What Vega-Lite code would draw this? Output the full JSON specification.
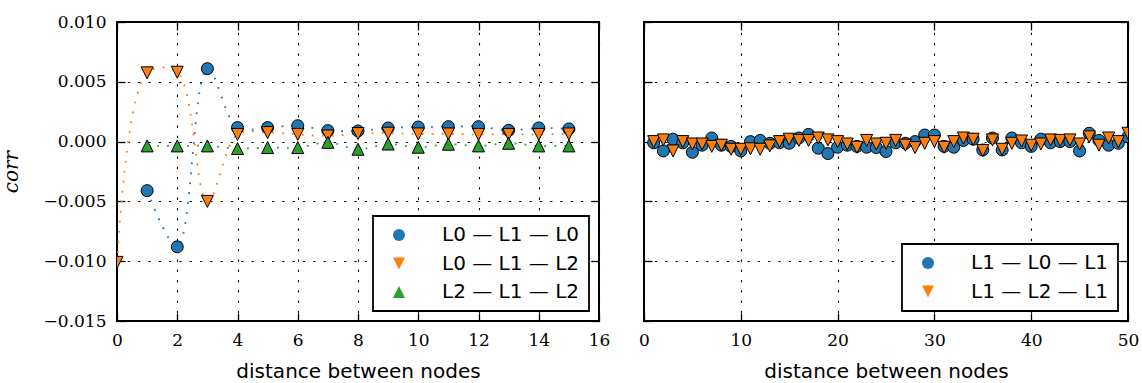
{
  "$schema": "https://vega.github.io/schema/vega-lite/v6.json",
  "autosize": {"type": "pad"},
  "padding": {"left": 0, "top": 12, "right": 0, "bottom": 0},
  "background": "white",
  "bounds": "flush",
  "spacing": 45,
  "datasets": {
    "left": [
      {"d": 1, "corr": -0.0041, "s": "L0 — L1 — L0"},
      {"d": 2, "corr": -0.0088, "s": "L0 — L1 — L0"},
      {"d": 3, "corr": 0.0061, "s": "L0 — L1 — L0"},
      {"d": 4, "corr": 0.00117, "s": "L0 — L1 — L0"},
      {"d": 5, "corr": 0.00117, "s": "L0 — L1 — L0"},
      {"d": 6, "corr": 0.00133, "s": "L0 — L1 — L0"},
      {"d": 7, "corr": 0.00092, "s": "L0 — L1 — L0"},
      {"d": 8, "corr": 0.00089, "s": "L0 — L1 — L0"},
      {"d": 9, "corr": 0.00114, "s": "L0 — L1 — L0"},
      {"d": 10, "corr": 0.00122, "s": "L0 — L1 — L0"},
      {"d": 11, "corr": 0.00125, "s": "L0 — L1 — L0"},
      {"d": 12, "corr": 0.00125, "s": "L0 — L1 — L0"},
      {"d": 13, "corr": 0.00094, "s": "L0 — L1 — L0"},
      {"d": 14, "corr": 0.00114, "s": "L0 — L1 — L0"},
      {"d": 15, "corr": 0.00106, "s": "L0 — L1 — L0"},
      {"d": 0, "corr": -0.0101, "s": "L0 — L1 — L2"},
      {"d": 1, "corr": 0.00575, "s": "L0 — L1 — L2"},
      {"d": 2, "corr": 0.0058, "s": "L0 — L1 — L2"},
      {"d": 3, "corr": -0.005, "s": "L0 — L1 — L2"},
      {"d": 4, "corr": 0.0006, "s": "L0 — L1 — L2"},
      {"d": 5, "corr": 0.00075, "s": "L0 — L1 — L2"},
      {"d": 6, "corr": 0.0006, "s": "L0 — L1 — L2"},
      {"d": 7, "corr": 0.00047, "s": "L0 — L1 — L2"},
      {"d": 8, "corr": 0.00067, "s": "L0 — L1 — L2"},
      {"d": 9, "corr": 0.0007, "s": "L0 — L1 — L2"},
      {"d": 10, "corr": 0.00064, "s": "L0 — L1 — L2"},
      {"d": 11, "corr": 0.00064, "s": "L0 — L1 — L2"},
      {"d": 12, "corr": 0.0006, "s": "L0 — L1 — L2"},
      {"d": 13, "corr": 0.0006, "s": "L0 — L1 — L2"},
      {"d": 14, "corr": 0.0006, "s": "L0 — L1 — L2"},
      {"d": 15, "corr": 0.00064, "s": "L0 — L1 — L2"},
      {"d": 1, "corr": -0.00036, "s": "L2 — L1 — L2"},
      {"d": 2, "corr": -0.00036, "s": "L2 — L1 — L2"},
      {"d": 3, "corr": -0.00036, "s": "L2 — L1 — L2"},
      {"d": 4, "corr": -0.00058, "s": "L2 — L1 — L2"},
      {"d": 5, "corr": -0.0005, "s": "L2 — L1 — L2"},
      {"d": 6, "corr": -0.0005, "s": "L2 — L1 — L2"},
      {"d": 7, "corr": -0.00006, "s": "L2 — L1 — L2"},
      {"d": 8, "corr": -0.00064, "s": "L2 — L1 — L2"},
      {"d": 9, "corr": -0.0002, "s": "L2 — L1 — L2"},
      {"d": 10, "corr": -0.00047, "s": "L2 — L1 — L2"},
      {"d": 11, "corr": -0.00022, "s": "L2 — L1 — L2"},
      {"d": 12, "corr": -0.00036, "s": "L2 — L1 — L2"},
      {"d": 13, "corr": -0.00014, "s": "L2 — L1 — L2"},
      {"d": 14, "corr": -0.00036, "s": "L2 — L1 — L2"},
      {"d": 15, "corr": -0.00036, "s": "L2 — L1 — L2"}
    ],
    "right": [
      {"d": 1, "corr": -0.0001, "s": "L1 — L0 — L1"},
      {"d": 2, "corr": -0.00078, "s": "L1 — L0 — L1"},
      {"d": 3, "corr": 0.0002, "s": "L1 — L0 — L1"},
      {"d": 4, "corr": -0.0001, "s": "L1 — L0 — L1"},
      {"d": 5, "corr": -0.00089, "s": "L1 — L0 — L1"},
      {"d": 6, "corr": -0.0003, "s": "L1 — L0 — L1"},
      {"d": 7, "corr": 0.0003, "s": "L1 — L0 — L1"},
      {"d": 8, "corr": -0.0003, "s": "L1 — L0 — L1"},
      {"d": 9, "corr": -0.0004, "s": "L1 — L0 — L1"},
      {"d": 10, "corr": -0.00078, "s": "L1 — L0 — L1"},
      {"d": 11, "corr": 0.0, "s": "L1 — L0 — L1"},
      {"d": 12, "corr": 0.0001, "s": "L1 — L0 — L1"},
      {"d": 13, "corr": -0.00014, "s": "L1 — L0 — L1"},
      {"d": 14, "corr": -0.0001, "s": "L1 — L0 — L1"},
      {"d": 15, "corr": -0.00014, "s": "L1 — L0 — L1"},
      {"d": 16, "corr": 0.0003, "s": "L1 — L0 — L1"},
      {"d": 17, "corr": 0.0006, "s": "L1 — L0 — L1"},
      {"d": 18, "corr": -0.00055, "s": "L1 — L0 — L1"},
      {"d": 19, "corr": -0.001, "s": "L1 — L0 — L1"},
      {"d": 20, "corr": -0.00047, "s": "L1 — L0 — L1"},
      {"d": 21, "corr": -0.0003, "s": "L1 — L0 — L1"},
      {"d": 22, "corr": -0.0004, "s": "L1 — L0 — L1"},
      {"d": 23, "corr": -0.00047, "s": "L1 — L0 — L1"},
      {"d": 24, "corr": -0.0005, "s": "L1 — L0 — L1"},
      {"d": 25, "corr": -0.00083, "s": "L1 — L0 — L1"},
      {"d": 26, "corr": -0.0001, "s": "L1 — L0 — L1"},
      {"d": 27, "corr": -0.00014, "s": "L1 — L0 — L1"},
      {"d": 28, "corr": 0.0, "s": "L1 — L0 — L1"},
      {"d": 29, "corr": 0.00055, "s": "L1 — L0 — L1"},
      {"d": 30, "corr": 0.00055, "s": "L1 — L0 — L1"},
      {"d": 31, "corr": -0.0004, "s": "L1 — L0 — L1"},
      {"d": 32, "corr": -0.00047, "s": "L1 — L0 — L1"},
      {"d": 33, "corr": 0.0001, "s": "L1 — L0 — L1"},
      {"d": 34, "corr": 0.0002, "s": "L1 — L0 — L1"},
      {"d": 35, "corr": -0.0007, "s": "L1 — L0 — L1"},
      {"d": 36, "corr": 0.0003, "s": "L1 — L0 — L1"},
      {"d": 37, "corr": -0.0007, "s": "L1 — L0 — L1"},
      {"d": 38, "corr": 0.0003, "s": "L1 — L0 — L1"},
      {"d": 39, "corr": -0.0001, "s": "L1 — L0 — L1"},
      {"d": 40, "corr": -0.0004, "s": "L1 — L0 — L1"},
      {"d": 41, "corr": 0.0002, "s": "L1 — L0 — L1"},
      {"d": 42, "corr": -0.0001, "s": "L1 — L0 — L1"},
      {"d": 43, "corr": 0.0, "s": "L1 — L0 — L1"},
      {"d": 44, "corr": 0.0, "s": "L1 — L0 — L1"},
      {"d": 45, "corr": -0.00078, "s": "L1 — L0 — L1"},
      {"d": 46, "corr": 0.0007, "s": "L1 — L0 — L1"},
      {"d": 47, "corr": 0.0001, "s": "L1 — L0 — L1"},
      {"d": 48, "corr": -0.0003, "s": "L1 — L0 — L1"},
      {"d": 49, "corr": -0.00014, "s": "L1 — L0 — L1"},
      {"d": 50, "corr": 0.0004, "s": "L1 — L0 — L1"},
      {"d": 1, "corr": 0.0, "s": "L1 — L2 — L1"},
      {"d": 2, "corr": 0.00014, "s": "L1 — L2 — L1"},
      {"d": 3, "corr": -0.00078, "s": "L1 — L2 — L1"},
      {"d": 4, "corr": 0.0, "s": "L1 — L2 — L1"},
      {"d": 5, "corr": -0.0002, "s": "L1 — L2 — L1"},
      {"d": 6, "corr": -0.0002, "s": "L1 — L2 — L1"},
      {"d": 7, "corr": -0.0004, "s": "L1 — L2 — L1"},
      {"d": 8, "corr": -0.0003, "s": "L1 — L2 — L1"},
      {"d": 9, "corr": -0.00064, "s": "L1 — L2 — L1"},
      {"d": 10, "corr": -0.00064, "s": "L1 — L2 — L1"},
      {"d": 11, "corr": -0.0006, "s": "L1 — L2 — L1"},
      {"d": 12, "corr": -0.00064, "s": "L1 — L2 — L1"},
      {"d": 13, "corr": -0.00036, "s": "L1 — L2 — L1"},
      {"d": 14, "corr": 0.0, "s": "L1 — L2 — L1"},
      {"d": 15, "corr": 0.0002, "s": "L1 — L2 — L1"},
      {"d": 16, "corr": 0.0001, "s": "L1 — L2 — L1"},
      {"d": 17, "corr": 0.0001, "s": "L1 — L2 — L1"},
      {"d": 18, "corr": 0.0003, "s": "L1 — L2 — L1"},
      {"d": 19, "corr": 0.00014, "s": "L1 — L2 — L1"},
      {"d": 20, "corr": 0.0, "s": "L1 — L2 — L1"},
      {"d": 21, "corr": -0.0002, "s": "L1 — L2 — L1"},
      {"d": 22, "corr": -0.00047, "s": "L1 — L2 — L1"},
      {"d": 23, "corr": 0.0001, "s": "L1 — L2 — L1"},
      {"d": 24, "corr": -0.0002, "s": "L1 — L2 — L1"},
      {"d": 25, "corr": -0.00014, "s": "L1 — L2 — L1"},
      {"d": 26, "corr": 0.0001, "s": "L1 — L2 — L1"},
      {"d": 27, "corr": -0.0003, "s": "L1 — L2 — L1"},
      {"d": 28, "corr": -0.0005, "s": "L1 — L2 — L1"},
      {"d": 29, "corr": -0.00014, "s": "L1 — L2 — L1"},
      {"d": 30, "corr": 0.0, "s": "L1 — L2 — L1"},
      {"d": 31, "corr": -0.00047, "s": "L1 — L2 — L1"},
      {"d": 32, "corr": 0.0, "s": "L1 — L2 — L1"},
      {"d": 33, "corr": 0.0003, "s": "L1 — L2 — L1"},
      {"d": 34, "corr": 0.0002, "s": "L1 — L2 — L1"},
      {"d": 35, "corr": -0.00075, "s": "L1 — L2 — L1"},
      {"d": 36, "corr": 0.00014, "s": "L1 — L2 — L1"},
      {"d": 37, "corr": -0.00064, "s": "L1 — L2 — L1"},
      {"d": 38, "corr": -0.00014, "s": "L1 — L2 — L1"},
      {"d": 39, "corr": 0.00005, "s": "L1 — L2 — L1"},
      {"d": 40, "corr": -0.0003, "s": "L1 — L2 — L1"},
      {"d": 41, "corr": -0.0002, "s": "L1 — L2 — L1"},
      {"d": 42, "corr": 0.00014, "s": "L1 — L2 — L1"},
      {"d": 43, "corr": 0.0001, "s": "L1 — L2 — L1"},
      {"d": 44, "corr": 0.00014, "s": "L1 — L2 — L1"},
      {"d": 45, "corr": -0.0002, "s": "L1 — L2 — L1"},
      {"d": 46, "corr": 0.0004, "s": "L1 — L2 — L1"},
      {"d": 47, "corr": -0.0003, "s": "L1 — L2 — L1"},
      {"d": 48, "corr": 0.0003, "s": "L1 — L2 — L1"},
      {"d": 49, "corr": 0.0, "s": "L1 — L2 — L1"},
      {"d": 50, "corr": 0.0007, "s": "L1 — L2 — L1"}
    ]
  },
  "hconcat": [
    {
      "width": 482,
      "height": 299,
      "data": {"name": "left"},
      "layer": [
        {
          "mark": {"type": "point", "opacity": 0},
          "encoding": {
            "x": {"field": "d", "type": "quantitative", "scale": {"domain": [0, 16], "nice": false},
                  "axis": {"orient": "bottom", "values": [0, 2, 4, 6, 8, 10, 12, 14, 16], "title": "distance between nodes"}},
            "y": {"field": "corr", "type": "quantitative", "scale": {"domain": [-0.015, 0.01], "nice": false, "zero": false},
                  "axis": {"orient": "left", "values": [-0.015, -0.01, -0.005, 0, 0.005, 0.01], "format": ".3f", "title": "corr",
                           "titleFont": "DejaVu Serif", "titleFontStyle": "italic", "titleFontWeight": "normal", "titleFontSize": 20, "titlePadding": 22}}
          }
        },
        {
          "mark": {"type": "point", "opacity": 0},
          "encoding": {
            "x": {"field": "d", "type": "quantitative", "axis": {"orient": "top", "labels": false, "grid": false, "domain": false, "title": null, "values": [0, 2, 4, 6, 8, 10, 12, 14, 16]}},
            "y": {"field": "corr", "type": "quantitative", "axis": {"orient": "right", "labels": false, "grid": false, "domain": false, "title": null, "values": [-0.015, -0.01, -0.005, 0, 0.005, 0.01]}}
          }
        },
        {
          "transform": [{"filter": "datum.s === 'L0 — L1 — L0'"}],
          "mark": {"type": "line", "interpolate": "catmull-rom", "color": "#1f77b4", "strokeWidth": 1.8, "strokeDash": [1.8, 8.2], "clip": true},
          "encoding": {"x": {"field": "d", "type": "quantitative", "axis": null}, "y": {"field": "corr", "type": "quantitative", "axis": null}}
        },
        {
          "transform": [{"filter": "datum.s === 'L0 — L1 — L2'"}],
          "mark": {"type": "line", "interpolate": "catmull-rom", "color": "#ff7f0e", "strokeWidth": 1.8, "strokeDash": [1.8, 8.2], "clip": true},
          "encoding": {"x": {"field": "d", "type": "quantitative", "axis": null}, "y": {"field": "corr", "type": "quantitative", "axis": null}}
        },
        {
          "transform": [{"filter": "datum.s === 'L2 — L1 — L2'"}],
          "mark": {"type": "line", "interpolate": "catmull-rom", "color": "#2ca02c", "strokeWidth": 1.8, "strokeDash": [1.8, 8.2], "clip": true},
          "encoding": {"x": {"field": "d", "type": "quantitative", "axis": null}, "y": {"field": "corr", "type": "quantitative", "axis": null}}
        },
        {
          "mark": {"type": "point", "filled": true, "stroke": "black", "strokeWidth": 1, "opacity": 1, "strokeOpacity": 1, "size": 144, "clip": true},
          "encoding": {
            "x": {"field": "d", "type": "quantitative", "axis": null},
            "y": {"field": "corr", "type": "quantitative", "axis": null},
            "fill": {"field": "s", "type": "nominal",
                     "scale": {"domain": ["L0 — L1 — L0", "L0 — L1 — L2", "L2 — L1 — L2"], "range": ["#1f77b4", "#ff7f0e", "#2ca02c"]},
                     "legend": {
                       "orient": "bottom-right", "offset": 10, "title": null, "padding": 9, "rowPadding": 8.5,
                       "symbolSize": 144, "symbolOffset": 7, "symbolStrokeColor": "black", "symbolStrokeWidth": 1, "symbolOpacity": 1,
                       "labelFont": "DejaVu Sans", "labelFontSize": 20, "labelColor": "black", "labelOffset": 33, "labelLimit": 400,
                       "strokeColor": "black", "fillColor": "white", "cornerRadius": 0
                     }},
            "shape": {"field": "s", "type": "nominal",
                      "scale": {"domain": ["L0 — L1 — L0", "L0 — L1 — L2", "L2 — L1 — L2"], "range": ["circle", "M 0 1 L -1 -1 L 1 -1 Z", "M 0 -1 L -1 1 L 1 1 Z"]}}
          }
        }
      ],
      "resolve": {"axis": {"x": "independent", "y": "independent"}}
    },
    {
      "width": 484,
      "height": 299,
      "data": {"name": "right"},
      "layer": [
        {
          "mark": {"type": "point", "opacity": 0},
          "encoding": {
            "x": {"field": "d", "type": "quantitative", "scale": {"domain": [0, 50], "nice": false},
                  "axis": {"orient": "bottom", "values": [0, 10, 20, 30, 40, 50], "title": "distance between nodes"}},
            "y": {"field": "corr", "type": "quantitative", "scale": {"domain": [-0.015, 0.01], "nice": false, "zero": false},
                  "axis": {"orient": "left", "values": [-0.015, -0.01, -0.005, 0, 0.005, 0.01], "labels": false, "title": null}}
          }
        },
        {
          "mark": {"type": "point", "opacity": 0},
          "encoding": {
            "x": {"field": "d", "type": "quantitative", "axis": {"orient": "top", "labels": false, "grid": false, "domain": false, "title": null, "values": [0, 10, 20, 30, 40, 50]}},
            "y": {"field": "corr", "type": "quantitative", "axis": {"orient": "right", "labels": false, "grid": false, "domain": false, "title": null, "values": [-0.015, -0.01, -0.005, 0, 0.005, 0.01]}}
          }
        },
        {
          "transform": [{"filter": "datum.s === 'L1 — L0 — L1'"}],
          "mark": {"type": "line", "interpolate": "catmull-rom", "color": "#1f77b4", "strokeWidth": 1.8, "strokeDash": [1.8, 8.2], "clip": true},
          "encoding": {"x": {"field": "d", "type": "quantitative", "axis": null}, "y": {"field": "corr", "type": "quantitative", "axis": null}}
        },
        {
          "transform": [{"filter": "datum.s === 'L1 — L2 — L1'"}],
          "mark": {"type": "line", "interpolate": "catmull-rom", "color": "#ff7f0e", "strokeWidth": 1.8, "strokeDash": [1.8, 8.2], "clip": true},
          "encoding": {"x": {"field": "d", "type": "quantitative", "axis": null}, "y": {"field": "corr", "type": "quantitative", "axis": null}}
        },
        {
          "mark": {"type": "point", "filled": true, "stroke": "black", "strokeWidth": 1, "opacity": 1, "strokeOpacity": 1, "size": 144, "clip": true},
          "encoding": {
            "x": {"field": "d", "type": "quantitative", "axis": null},
            "y": {"field": "corr", "type": "quantitative", "axis": null},
            "fill": {"field": "s", "type": "nominal",
                     "scale": {"domain": ["L1 — L0 — L1", "L1 — L2 — L1"], "range": ["#1f77b4", "#ff7f0e"]},
                     "legend": {
                       "orient": "bottom-right", "offset": 10, "title": null, "padding": 9, "rowPadding": 8.5,
                       "symbolSize": 144, "symbolOffset": 7, "symbolStrokeColor": "black", "symbolStrokeWidth": 1, "symbolOpacity": 1,
                       "labelFont": "DejaVu Sans", "labelFontSize": 20, "labelColor": "black", "labelOffset": 33, "labelLimit": 400,
                       "strokeColor": "black", "fillColor": "white", "cornerRadius": 0
                     }},
            "shape": {"field": "s", "type": "nominal",
                      "scale": {"domain": ["L1 — L0 — L1", "L1 — L2 — L1"], "range": ["circle", "M 0 1 L -1 -1 L 1 -1 Z"]}}
          }
        }
      ],
      "resolve": {"axis": {"x": "independent", "y": "independent"}}
    }
  ],
  "resolve": {"scale": {"fill": "independent", "shape": "independent"}},
  "config": {
    "view": {"stroke": "black", "strokeWidth": 2},
    "axis": {
      "domain": false,
      "grid": true, "gridColor": "black", "gridDash": [2.3, 8], "gridWidth": 1.1, "gridOpacity": 1,
      "ticks": true, "tickSize": -8, "tickColor": "black", "tickWidth": 1.3,
      "labelFont": "DejaVu Serif", "labelFontSize": 17, "labelColor": "black", "labelPadding": 19,
      "labelOverlap": false, "labelFlush": false, "labelBound": false,
      "titleFont": "DejaVu Sans", "titleFontSize": 20, "titleFontWeight": "normal", "titleColor": "black", "titlePadding": 13
    },
    "legend": {"strokeWidth": 1.8, "symbolStrokeColor": "black", "symbolStrokeWidth": 1}
  }
}
